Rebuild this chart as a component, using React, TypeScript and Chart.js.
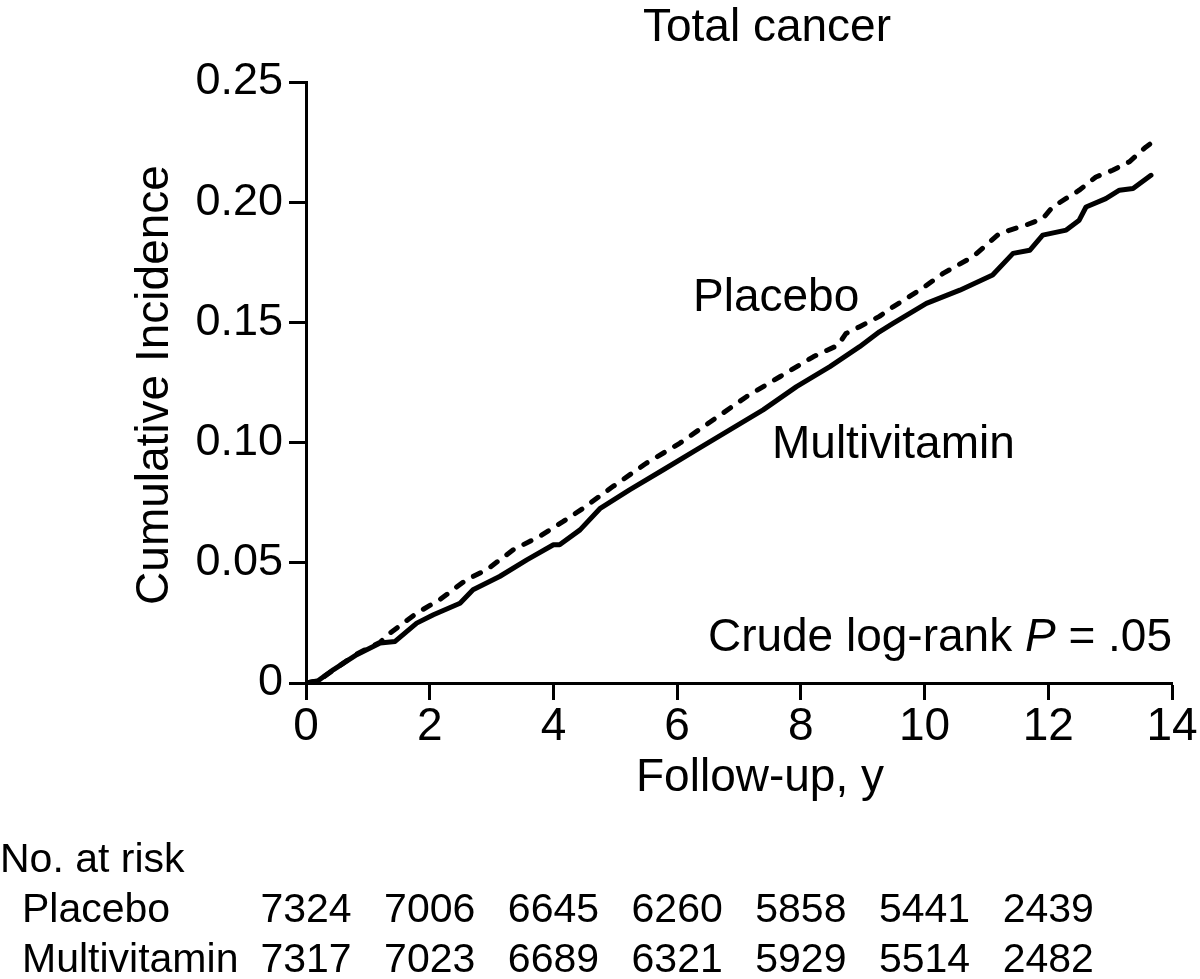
import React, { useEffect, useRef } from "react";
import { Chart, registerables } from "chart.js";

Chart.register(...registerables);

const FONT = '"Liberation Sans", Arial, Helvetica, sans-serif';

const TITLE = "Total cancer";
const X_TITLE = "Follow-up, y";
const Y_TITLE = "Cumulative Incidence";
const SERIES_NAMES = ["Placebo", "Multivitamin"];

const X_TICKS = [0, 2, 4, 6, 8, 10, 12, 14];
const Y_TICKS = [0, 0.05, 0.1, 0.15, 0.2, 0.25];

const placeboX = [0, 0.2, 0.45, 0.8, 1.2, 1.36, 1.79, 2.16, 2.59, 2.92, 3.35, 3.77, 4.16, 4.48, 4.96, 5.5, 6.04, 6.58, 7.12, 7.66, 8.2, 8.6, 8.73, 8.95, 9.27, 9.49, 9.92, 10.3, 10.78, 11.21, 11.64, 11.91, 12.07, 12.5, 12.77, 13.04, 13.31, 13.58, 13.66];
const placeboY = [0, 0.001, 0.0055, 0.0118, 0.017, 0.0208, 0.0291, 0.0346, 0.0429, 0.0471, 0.0554, 0.0609, 0.0672, 0.0727, 0.0817, 0.0914, 0.0997, 0.1094, 0.1191, 0.1274, 0.1357, 0.1405, 0.1454, 0.1482, 0.1525, 0.1565, 0.1634, 0.1704, 0.1773, 0.187, 0.1905, 0.1932, 0.198, 0.205, 0.2105, 0.2133, 0.2168, 0.223, 0.2245];

const multiX = [0, 0.2, 0.44, 0.82, 1.2, 1.44, 1.79, 2.06, 2.49, 2.7, 3.13, 3.57, 4.0, 4.1, 4.43, 4.75, 5.23, 5.77, 6.31, 6.85, 7.39, 7.93, 8.47, 8.95, 9.27, 9.49, 10.03, 10.57, 11.1, 11.43, 11.7, 11.91, 12.29, 12.5, 12.61, 12.93, 13.15, 13.37, 13.66];
const multiY = [0, 0.001, 0.0055, 0.0118, 0.0166, 0.0173, 0.0249, 0.0284, 0.0332, 0.0388, 0.0443, 0.0512, 0.0575, 0.0575, 0.0637, 0.0725, 0.0803, 0.0886, 0.097, 0.1053, 0.1136, 0.1233, 0.1316, 0.1399, 0.1461, 0.1496, 0.1579, 0.1634, 0.1697, 0.1787, 0.18, 0.1863, 0.1884, 0.1925, 0.198, 0.2015, 0.205, 0.2057, 0.2112];

const RISK_HEADER = "No. at risk";
const riskTimes = [0, 2, 4, 6, 8, 10, 12];
const riskPlacebo = [7324, 7006, 6645, 6260, 5858, 5441, 2439];
const riskMulti = [7317, 7023, 6689, 6321, 5929, 5514, 2482];

const P_TEXT_PRE = "Crude log-rank ";
const P_TEXT_P = "P";
const P_TEXT_POST = " = .05";

const toPoints = (xs: number[], ys: number[]) => xs.map((x, i) => ({ x, y: ys[i] }));

const annotationPlugin = {
  id: "annotations",
  afterDraw(chart: any) {
    const { ctx } = chart;
    const xs = chart.scales.x;
    ctx.save();
    ctx.fillStyle = "#000";
    ctx.textBaseline = "alphabetic";

    // Title
    ctx.font = `46px ${FONT}`;
    ctx.textAlign = "center";
    ctx.fillText(TITLE, 767, 41);

    // Series labels
    ctx.textAlign = "left";
    ctx.fillText(SERIES_NAMES[0], 693, 311);
    ctx.fillText(SERIES_NAMES[1], 772, 458);

    // P value (right aligned at 1172)
    const wPre = ctx.measureText(P_TEXT_PRE).width;
    const wPost = ctx.measureText(P_TEXT_POST).width;
    ctx.font = `italic 46px ${FONT}`;
    const wP = ctx.measureText(P_TEXT_P).width;
    const startX = 1172 - (wPre + wP + wPost);
    ctx.font = `46px ${FONT}`;
    ctx.fillText(P_TEXT_PRE, startX, 651);
    ctx.font = `italic 46px ${FONT}`;
    ctx.fillText(P_TEXT_P, startX + wPre, 651);
    ctx.font = `46px ${FONT}`;
    ctx.fillText(P_TEXT_POST, startX + wPre + wP, 651);

    // X title
    ctx.textAlign = "center";
    ctx.fillText(X_TITLE, 760, 791);

    // Y title
    ctx.save();
    ctx.translate(168, 385);
    ctx.rotate(-Math.PI / 2);
    ctx.textAlign = "center";
    ctx.fillText(Y_TITLE, 0, 0);
    ctx.restore();

    // Risk table
    ctx.font = `41px ${FONT}`;
    ctx.textAlign = "left";
    ctx.fillText(RISK_HEADER, 0, 872);
    ctx.fillText(SERIES_NAMES[0], 22, 922);
    ctx.fillText(SERIES_NAMES[1], 22, 972);
    ctx.textAlign = "center";
    riskTimes.forEach((t, i) => {
      const px = xs.getPixelForValue(t);
      ctx.fillText(String(riskPlacebo[i]), px, 922);
      ctx.fillText(String(riskMulti[i]), px, 972);
    });
    ctx.restore();
  },
};

export default function App() {
  const ref = useRef<HTMLCanvasElement | null>(null);
  useEffect(() => {
    if (!ref.current) return;
    const chart = new Chart(ref.current, {
      type: "line",
      data: {
        datasets: [
          {
            label: SERIES_NAMES[0],
            data: toPoints(placeboX, placeboY),
            borderColor: "#000",
            borderWidth: 5,
            borderDash: [8, 12],
            borderCapStyle: "round",
            borderJoinStyle: "round",
            pointRadius: 0,
            tension: 0,
            fill: false,
          },
          {
            label: SERIES_NAMES[1],
            data: toPoints(multiX, multiY),
            borderColor: "#000",
            borderWidth: 5,
            borderCapStyle: "round",
            borderJoinStyle: "round",
            pointRadius: 0,
            tension: 0,
            fill: false,
          },
        ],
      },
      options: {
        animation: false,
        responsive: false,
        devicePixelRatio: 1,
        layout: { padding: { left: 0, right: 28, top: 82, bottom: 196 } },
        plugins: {
          legend: { display: false },
          title: { display: false },
          tooltip: { enabled: false },
        },
        scales: {
          x: {
            type: "linear",
            min: 0,
            max: 14,
            afterBuildTicks: (s: any) => {
              s.ticks = X_TICKS.map((v) => ({ value: v }));
            },
            afterFit: (s: any) => {
              s.height = 100;
            },
            ticks: {
              color: "#000",
              font: { family: FONT, size: 46 },
              padding: 0,
              maxRotation: 0,
              autoSkip: false,
            },
            grid: {
              drawOnChartArea: false,
              drawTicks: true,
              tickLength: 17,
              tickWidth: 3,
              tickColor: "#000",
            },
            border: { display: true, color: "#000", width: 3 },
          },
          y: {
            type: "linear",
            min: 0,
            max: 0.25,
            afterBuildTicks: (s: any) => {
              s.ticks = Y_TICKS.map((v) => ({ value: v }));
            },
            afterFit: (s: any) => {
              s.width = 306;
            },
            ticks: {
              color: "#000",
              font: { family: FONT, size: 45 },
              padding: 6,
              autoSkip: false,
              callback: (v: any) => (Number(v) === 0 ? "0" : Number(v).toFixed(2)),
            },
            grid: {
              drawOnChartArea: false,
              drawTicks: true,
              tickLength: 17,
              tickWidth: 3,
              tickColor: "#000",
            },
            border: { display: true, color: "#000", width: 3 },
          },
        },
      },
      plugins: [annotationPlugin],
    });
    return () => chart.destroy();
  }, []);
  return (
    <div style={{ position: "absolute", left: 0, top: 0, width: 1200, height: 979, background: "#fff" }}>
      <canvas ref={ref} width={1200} height={979} />
    </div>
  );
}
